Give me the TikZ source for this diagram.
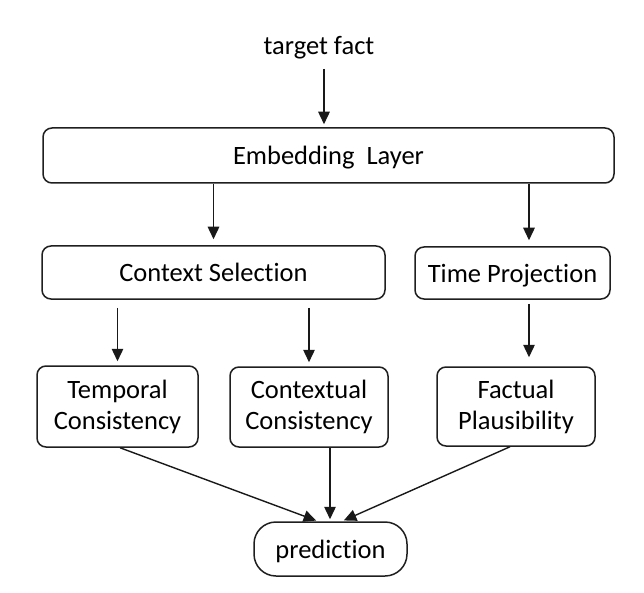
\documentclass[tikz,border=0pt]{standalone}
\usepackage{fontspec}
\setmainfont{Carlito}[RawFeature={-liga;-clig;-dlig}]
\usetikzlibrary{arrows.meta,calc}
\begin{document}
\begin{tikzpicture}[x=1pt,y=-1pt,
  font=\fontsize{26.5}{31}\selectfont,
  box/.style={draw=black!88,line width=1.5pt,rounded corners=9pt,inner sep=0pt},
  onebox/.style={box,text height=18pt,text depth=0pt},
  twobox/.style={box,align=center},
  arr/.style={draw=black!90,line width=1.4pt,-{Triangle[length=12.5pt,width=11.5pt]}}]
\useasboundingbox (0,0) rectangle (644,593);
\node (tf) [anchor=base,inner sep=0pt] at (319,55) {target fact};
\node (emb) [onebox,minimum width=571pt,minimum height=55pt] at (328.5,155.5) {Embedding\ \ Layer};
\node (ctx) [onebox,minimum width=343pt,minimum height=53pt] at (213.5,272.5) {Context Selection};
\node (tp) [onebox,minimum width=195pt,minimum height=52pt] at (512.5,273) {Time Projection};
\node (temp) [twobox,minimum width=161pt,minimum height=81pt] at (117.5,406.5) {Temporal\\Consistency};
\node (contx) [twobox,minimum width=158pt,minimum height=80pt] at (309,407) {Contextual\\Consistency};
\node (fact) [twobox,minimum width=158pt,minimum height=79pt] at (516,406.5) {Factual\\Plausibility};
\node (pred) [onebox,rounded corners=22pt,minimum width=153pt,minimum height=54pt] at (330.5,549) {prediction};
\coordinate (rx) at (529,0);
\draw[arr,shorten <=9pt,shorten >=3pt] (tf.south -| 324,0) -- (emb.north -| 324,0);
\draw[arr,shorten >=6pt] (emb.south -| ctx.north) -- (ctx.north);
\draw[arr,shorten >=6pt] (emb.south -| rx) -- (tp.north -| rx);
\draw[arr,shorten <=8pt,shorten >=4pt] (ctx.south -| temp.north) -- (temp.north);
\draw[arr,shorten <=8pt,shorten >=4pt] (ctx.south -| contx.north) -- (contx.north);
\draw[arr,shorten <=4pt,shorten >=9pt] (tp.south -| rx) -- (fact.north -| rx);
\draw[arr,shorten >=2pt] ([xshift=2.5pt]temp.south) -- ([xshift=-12.5pt]pred.north);
\draw[arr,shorten >=2pt] (contx.south -| 330,0) -- (pred.north -| 330,0);
\draw[arr,shorten >=2pt] ([xshift=-6pt]fact.south) -- ([xshift=11.5pt]pred.north);
\end{tikzpicture}
\end{document}
